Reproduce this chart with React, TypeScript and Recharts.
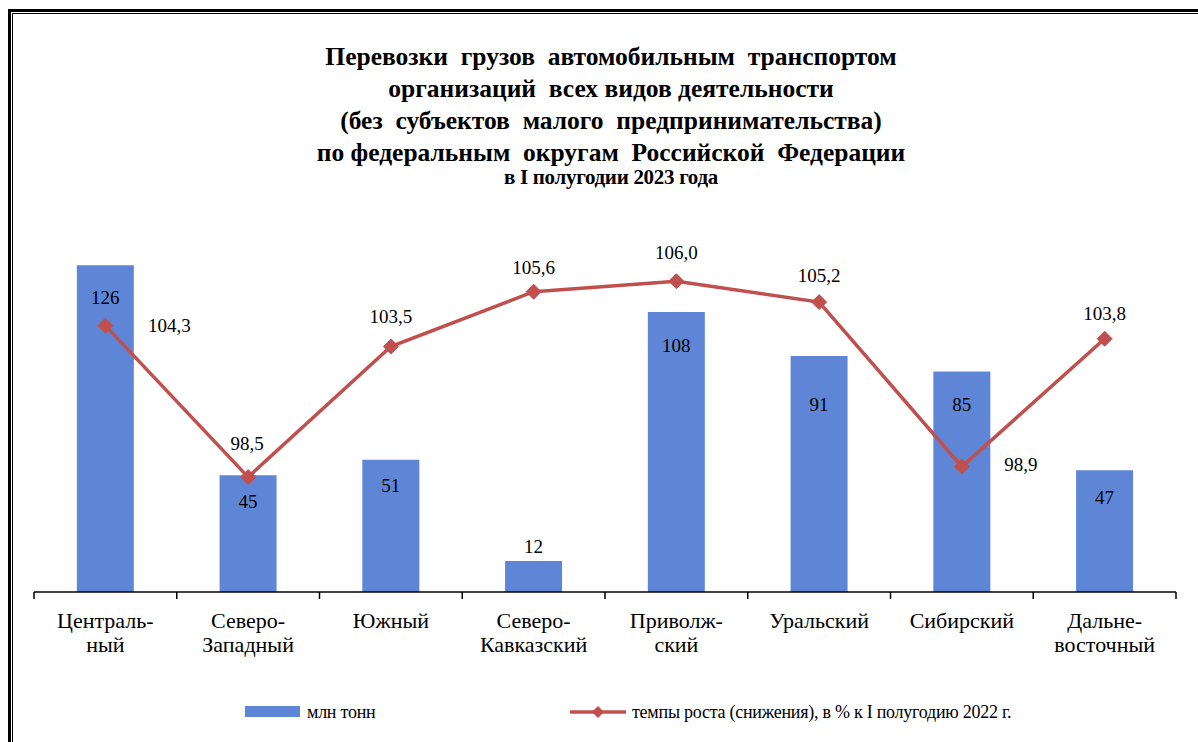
import React from 'react';
import { ComposedChart, Bar, Line, XAxis, YAxis, Legend, LabelList } from 'recharts';

const CATEGORIES = ['Централь-\nный', 'Северо-\nЗападный', 'Южный', 'Северо-\nКавказский', 'Приволж-\nский', 'Уральский', 'Сибирский', 'Дальне-\nвосточный'];
const TONNES = [126, 45, 51, 12, 108, 91, 85, 47];
const GROWTH = [104.3, 98.5, 103.5, 105.6, 106.0, 105.2, 98.9, 103.8];
const TONNES_LABELS = ['126', '45', '51', '12', '108', '91', '85', '47'];
const GROWTH_LABELS = ['104,3', '98,5', '103,5', '105,6', '106,0', '105,2', '98,9', '103,8'];

const SERIES_BAR = 'млн тонн';
const SERIES_LINE = 'темпы роста (снижения), в % к I полугодию 2022 г.';

// label placement (style only)
const BAR_LABEL_DY = [32, 26, 26, -14, 34, 48, 33, 27];
const LINE_LABEL_DX = [64, -1, 0, 0, 0, 0, 59, 0];
const LINE_LABEL_DY = [0, -34, -30, -24, -29, -27, -2, -25];

const W = 1198;
const H = 742;
const MARGIN = { top: 229, right: 22, bottom: 90, left: 34 };
const BLUE = '#5f86d6';
const RED = '#c0504d';
const FONT = '"Liberation Serif", "Times New Roman", serif';

const data = CATEGORIES.map((c, i) => ({
  name: c,
  tonnes: TONNES[i],
  growth: GROWTH[i],
  tl: TONNES_LABELS[i],
  gl: GROWTH_LABELS[i],
}));

const HALF_BAND = (W - MARGIN.left - MARGIN.right) / CATEGORIES.length / 2;

const Tick = (props: any) => {
  const { x, y, payload, index } = props;
  const lines = String(payload.value).split('\n');
  const half = payload && payload.offset ? payload.offset : HALF_BAND;
  const ax = y - 8;
  return (
    <g>
      <line x1={x - half} x2={x - half} y1={ax} y2={ax + 7} stroke="#000" strokeWidth={1.5} />
      {index === CATEGORIES.length - 1 && (
        <line x1={x + half} x2={x + half} y1={ax} y2={ax + 7} stroke="#000" strokeWidth={1.5} />
      )}
      <text x={x} y={y + 28} textAnchor="middle" fontFamily={FONT} fontSize={22} fill="#000">
        {lines.map((l, i) => (
          <tspan key={i} x={x} dy={i === 0 ? 0 : 24}>{l}</tspan>
        ))}
      </text>
    </g>
  );
};

const BarLabel = (props: any) => {
  const { x, y, width, index, value } = props;
  return (
    <text x={x + width / 2} y={y + BAR_LABEL_DY[index]} textAnchor="middle" dominantBaseline="central"
      fontFamily={FONT} fontSize={19} fill="#000">{value}</text>
  );
};

const LineLabel = (props: any) => {
  const { x, y, index, value } = props;
  return (
    <text x={x + LINE_LABEL_DX[index]} y={y + LINE_LABEL_DY[index]} textAnchor="middle" dominantBaseline="central"
      fontFamily={FONT} fontSize={19} fill="#000">{value}</text>
  );
};

const Diamond = (props: any) => {
  const { cx, cy } = props;
  if (cx == null || cy == null) return null;
  const r = 7.5;
  return <path d={`M${cx},${cy - r}L${cx + r},${cy}L${cx},${cy + r}L${cx - r},${cy}Z`} fill={RED} stroke={RED} strokeWidth={1} />;
};

const legendText: React.CSSProperties = { position: 'absolute', top: 0, lineHeight: '28px', whiteSpace: 'nowrap', fontSize: 18, letterSpacing: '-0.25px' };

const LegendContent = () => (
  <div style={{ position: 'relative', width: W, height: 28, fontFamily: FONT, color: '#000' }}>
    <div style={{ position: 'absolute', left: 245, top: 8, width: 55, height: 11, background: BLUE }} />
    <div style={{ ...legendText, left: 307 }}>{SERIES_BAR}</div>
    <svg style={{ position: 'absolute', left: 568, top: 6 }} width={60} height={16}>
      <line x1={2} x2={58} y1={8} y2={8} stroke={RED} strokeWidth={3.5} />
      <path d="M30,2L36,8L30,14L24,8Z" fill={RED} />
    </svg>
    <div style={{ ...legendText, left: 632 }}>{SERIES_LINE}</div>
  </div>
);

const TITLE_LINES = [
  'Перевозки  грузов  автомобильным  транспортом',
  'организаций  всех видов деятельности',
  '(без  субъектов  малого  предпринимательства)',
  'по федеральным  округам  Российской  Федерации',
];

export default function App() {
  return (
    <div style={{ position: 'absolute', left: 0, top: 0, width: W, height: H, background: '#fff', overflow: 'hidden' }}>
      <div style={{ position: 'absolute', left: 8, top: 9, right: 0, bottom: 0, borderTop: '3px solid #000', borderLeft: '3px solid #000' }} />
      <div style={{ position: 'absolute', left: 12, top: 13, right: 0, bottom: 0, borderTop: '1px solid #000', borderLeft: '1px solid #000' }} />
      <div style={{ position: 'absolute', left: 12, top: 41, width: W - 12, textAlign: 'center', fontFamily: FONT, fontWeight: 'bold', color: '#000', paddingLeft: 12, boxSizing: 'border-box' }}>
        {TITLE_LINES.map((t, i) => (
          <div key={i} style={{ fontSize: 25.5, lineHeight: '32px', whiteSpace: 'pre' }}>{t}</div>
        ))}
        <div style={{ fontSize: 21, lineHeight: '20px', marginTop: -2, whiteSpace: 'pre', letterSpacing: '-0.3px' }}>в I полугодии 2023 года</div>
      </div>
      <div style={{ position: 'absolute', left: 0, top: 0 }}>
        <ComposedChart width={W} height={H} data={data} margin={MARGIN} barCategoryGap="30%">
          <XAxis dataKey="name" interval={0} tick={<Tick />} tickLine={false} axisLine={{ stroke: '#000', strokeWidth: 1.5 }} height={60} />
          <YAxis yAxisId="left" hide domain={[0, 140]} />
          <YAxis yAxisId="right" orientation="right" hide domain={[94.1, 108.0]} />
          <Legend verticalAlign="middle" layout="horizontal" content={<LegendContent />} wrapperStyle={{ top: 698, left: 0, width: W, height: 28 }} />
          <Bar yAxisId="left" dataKey="tonnes" name={SERIES_BAR} fill={BLUE} isAnimationActive={false}>
            <LabelList dataKey="tl" content={<BarLabel />} />
          </Bar>
          <Line yAxisId="right" dataKey="growth" name={SERIES_LINE} stroke={RED} strokeWidth={3.5} dot={<Diamond />} activeDot={false} isAnimationActive={false}>
            <LabelList dataKey="gl" content={<LineLabel />} />
          </Line>
        </ComposedChart>
      </div>
    </div>
  );
}
